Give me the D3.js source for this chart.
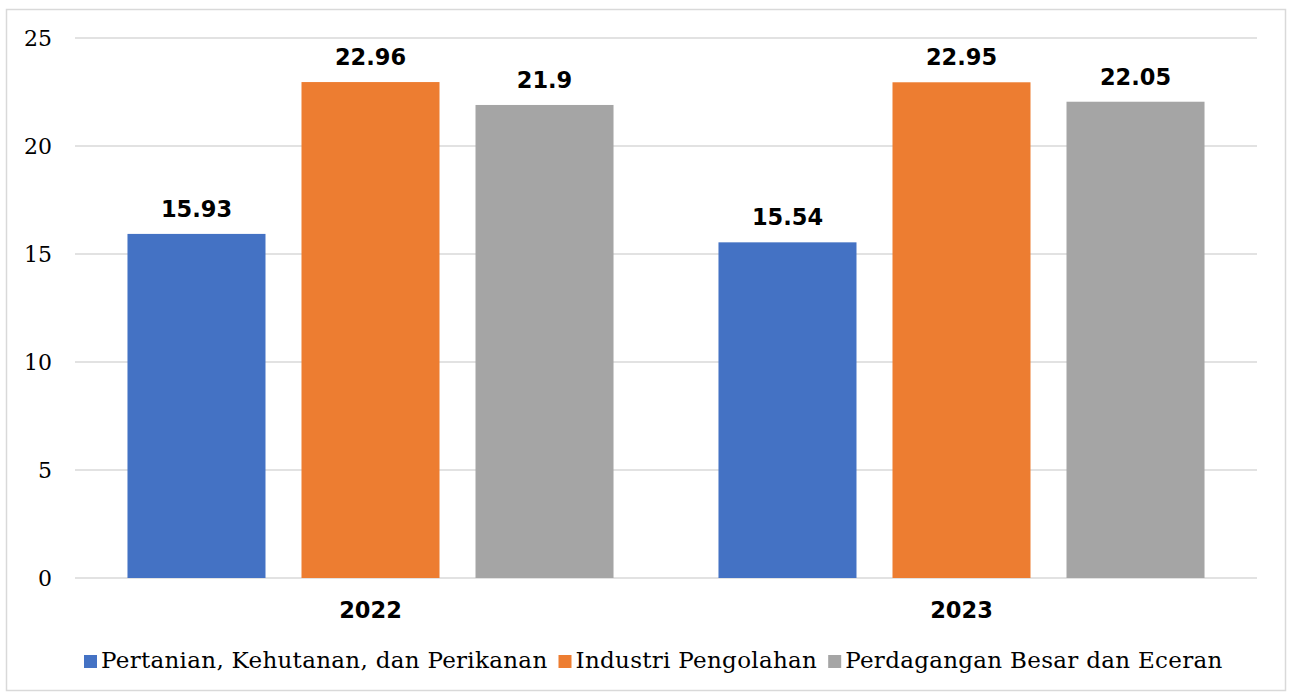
<!DOCTYPE html>
<html><head><meta charset="utf-8">
<script src="https://cdn.jsdelivr.net/npm/d3@7"></script>
<style>body{margin:0;background:#fff}svg{display:block}</style>
</head><body>
<svg id="c" width="1289" height="692"></svg>
<script>
const years = ["2022", "2023"];
const seriesNames = ["Pertanian, Kehutanan, dan Perikanan", "Industri Pengolahan", "Perdagangan Besar dan Eceran"];
const seriesColors = ["#4472C4", "#ED7D31", "#A5A5A5"];
const pertanian = [15.93, 15.54];
const industri = [22.96, 22.95];
const perdagangan = [21.9, 22.05];
const yTicks = [0, 5, 10, 15, 20, 25];

const seriesValues = [pertanian, industri, perdagangan];
const svg = d3.select("#c");
svg.append("rect").attr("x", 6.5).attr("y", 9.5).attr("width", 1279).attr("height", 681)
  .attr("fill", "#fff").attr("stroke", "#d9d9d9").attr("stroke-width", 1.5);

const pLeft = 75, pRight = 1257, pTop = 38, pBottom = 578;
const x0 = d3.scaleBand().domain(years).range([pLeft, pRight]).paddingInner(0).paddingOuter(0);
const x1 = d3.scaleBand().domain(d3.range(3)).range([x0.bandwidth()*0.0888, x0.bandwidth()*0.9112]).paddingInner(0.2069).paddingOuter(0);
const y = d3.scaleLinear().domain([0, 25]).range([pBottom, pTop]);

const serif = "'DejaVu Serif', serif";
const sans = "'DejaVu Sans', Verdana, sans-serif";

// gridlines
svg.append("g").selectAll("line").data(yTicks).join("line")
  .attr("x1", pLeft).attr("x2", pRight)
  .attr("y1", d => y(d)).attr("y2", d => y(d))
  .attr("stroke", "#d9d9d9").attr("stroke-width", 1.5);

// y axis labels
const yAxis = d3.axisLeft(y).tickValues(yTicks).tickSize(0).tickPadding(0).tickFormat(d3.format("d"));
const ya = svg.append("g").attr("transform", `translate(${52},0)`).call(yAxis);
ya.select(".domain").remove();
ya.selectAll("text").attr("font-family", serif).attr("font-size", 22).attr("fill", "#000").attr("dy", "0.35em");

// bars
const groups = svg.append("g").selectAll("g").data(years).join("g")
  .attr("transform", d => `translate(${x0(d)},0)`);
groups.each(function(yr, yi) {
  const g = d3.select(this);
  const data = seriesValues.map((s, si) => ({si, v: s[yi]}));
  g.selectAll("rect").data(data).join("rect")
    .attr("x", d => x1(d.si)).attr("width", x1.bandwidth())
    .attr("y", d => y(d.v)).attr("height", d => y(0) - y(d.v))
    .attr("fill", d => seriesColors[d.si]);
  g.selectAll("text").data(data).join("text")
    .attr("x", d => x1(d.si) + x1.bandwidth()/2)
    .attr("y", d => y(d.v) - 17)
    .attr("text-anchor", "middle")
    .attr("font-family", sans).attr("font-weight", "bold").attr("font-size", 22.5)
    .attr("fill", "#000")
    .text(d => d.v);
});

// x axis labels
const xAxis = d3.axisBottom(x0).tickSize(0).tickPadding(0);
const xa = svg.append("g").attr("transform", `translate(0,${pBottom})`).call(xAxis);
xa.select(".domain").remove();
xa.selectAll("text").attr("font-family", sans).attr("font-weight", "bold").attr("font-size", 22.5)
  .attr("fill", "#000").attr("dy", "0").attr("y", 40);

// legend
const legend = svg.append("g");
let lx = 84;
seriesNames.forEach((name, i) => {
  legend.append("rect").attr("x", lx).attr("y", 655).attr("width", 13).attr("height", 13).attr("fill", seriesColors[i]);
  const t = legend.append("text").attr("x", lx + 17).attr("y", 668)
    .attr("font-family", serif).attr("font-size", 23).attr("letter-spacing", 0.3).attr("fill", "#000").text(name);
  lx += 17 + t.node().getComputedTextLength() + 11;
});
</script>
</body></html>
